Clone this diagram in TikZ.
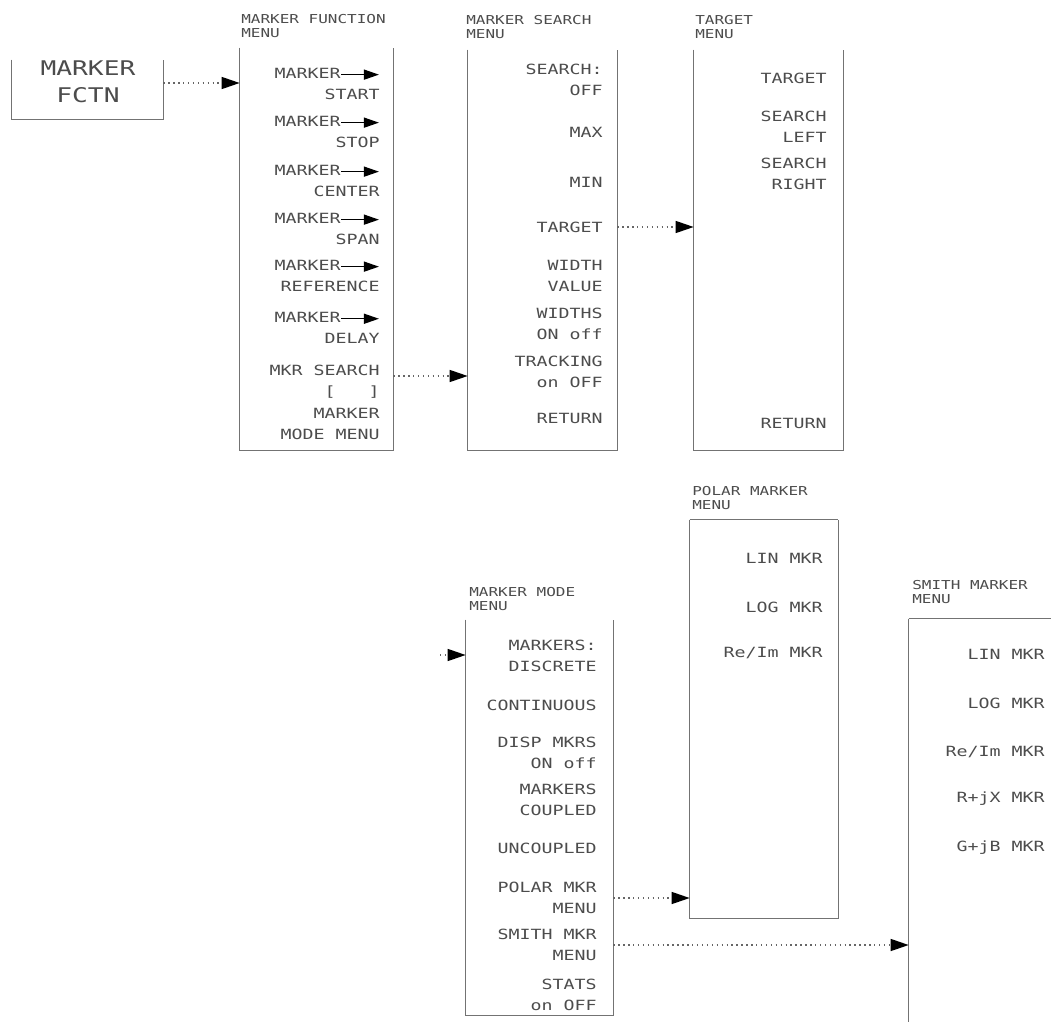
\documentclass[tikz,border=0pt]{standalone}
\usepackage{fontspec}
\newfontfamily\hpfont[FakeStretch=1.3]{DejaVu Sans Mono}
\usetikzlibrary{arrows.meta,fit,calc}
\tikzset{
	menu/.style   = {inner sep=0pt},
	mline/.style  = {draw=black!55,line width=0.7pt},
	item/.style   = {anchor=east,align=right,inner sep=0pt,text=black!70,
		font=\hpfont\fontsize{8}{12}\selectfont},
	mtitle/.style = {anchor=west,align=left,inner sep=0pt,text=black!70,
		font=\hpfont\fontsize{7}{7.5}\selectfont},
	keytxt/.style = {align=center,inner sep=0pt,text=black!70,
		font=\hpfont\fontsize{11.5}{15.5}\selectfont},
	arr/.style    = {-{Triangle[length=0.36cm,width=0.24cm,color=black]},
		dotted,line width=0.8pt,black!60},
}
\newcommand\mkrarrow{\tikz[baseline=-0.5ex]\draw[black,line width=0.8pt,
	-{Triangle[length=0.3cm,width=0.2cm]}](0,0)--(0.75cm,0);}

\begin{document}
\begin{tikzpicture}[x=0.02cm,y=-0.02cm]
	\useasboundingbox (0,0) rectangle (1051,1021);
	
	%% Cadres
	\node (fctnkey)[menu,fit={(12,60)(163,119)}]{};
	\node (fctn)   [menu,fit={(240,48)(393,450)}]{};
	\node (search) [menu,fit={(468,50)(617,450)}]{};
	\node (target) [menu,fit={(694,50)(843,450)}]{};
	\node (polar)  [menu,fit={(690,520)(838,918)}]{};
	\node (mode)   [menu,fit={(466,620)(613,1015)}]{};
	\node (smith)  [menu,fit={(909,619)(1062,1030)}]{};
	\foreach \m in {fctnkey,fctn,search,target,polar,mode,smith}
	\draw[mline](\m.north west)|-(\m.south east)--(\m.north east);
	\draw[mline](polar.north west)--(polar.north east);
	\draw[mline](smith.north west)--(smith.north east);
	
	%% Titres
	\node (keylabel)   [keytxt] at (88,82)  {MARKER\\FCTN};
	\node (fctntitle)  [mtitle] at (241,26) {MARKER FUNCTION\\MENU};
	\node (searchtitle)[mtitle] at (466,27) {MARKER SEARCH\\MENU};
	\node (targettitle)[mtitle] at (695,27) {TARGET\\MENU};
	\node (polartitle) [mtitle] at (692,498){POLAR MARKER\\MENU};
	\node (modetitle)  [mtitle] at (469,599){MARKER MODE\\MENU};
	\node (smithtitle) [mtitle] at (912,592){SMITH MARKER\\MENU};
	
	%% Touches
	\foreach \y/\t [count=\i] in {84/{MARKER\mkrarrow\\START},
		132/{MARKER\mkrarrow\\STOP},181/{MARKER\mkrarrow\\CENTER},
		229/{MARKER\mkrarrow\\SPAN},276/{MARKER\mkrarrow\\REFERENCE},
		328/{MARKER\mkrarrow\\DELAY},382/{MKR SEARCH\\{}[~~~]},
		424/{MARKER\\MODE MENU}}
	\node (f\i)[item] at (380,\y) {\t};
	\foreach \y/\t [count=\i] in {80/{SEARCH:\\OFF},132/MAX,182/MIN,
		227/TARGET,276/{WIDTH\\VALUE},324/{WIDTHS\\ON off},
		372/{TRACKING\\on OFF},418/RETURN}
	\node (s\i)[item] at (603,\y) {\t};
	\foreach \y/\t [count=\i] in {78/TARGET,127/{SEARCH\\LEFT},
		174/{SEARCH\\RIGHT},423/RETURN}
	\node (t\i)[item] at (827,\y) {\t};
	\foreach \y/\t [count=\i] in {656/{MARKERS:\\DISCRETE},705/CONTINUOUS,
		753/{DISP MKRS\\ON off},800/{MARKERS\\COUPLED},848/UNCOUPLED,
		898/{POLAR MKR\\MENU},945/{SMITH MKR\\MENU},995/{STATS\\on OFF}}
	\node (m\i)[item] at (597,\y) {\t};
	\foreach \y/\t [count=\i] in {558/{LIN MKR},607/{LOG MKR},653/{Re/Im MKR}}
	\node (p\i)[item] at (823,\y) {\t};
	\foreach \y/\t [count=\i] in {654/{LIN MKR},703/{LOG MKR},752/{Re/Im MKR},
		799/{R+jX MKR},848/{G+jB MKR}}
	\node (h\i)[item] at (1045,\y) {\t};
	
	%% Fleches
	\draw[arr]($(fctnkey.east)+(0,-6.5)$)--($(fctnkey.east -| fctn.west)+(0,-6.5)$);
	\draw[arr]($(f7.east -| fctn.east)+(0,-6)$)--($(f7.east -| search.west)+(0,-6)$);
	\draw[arr](s4.east -| search.east)--(s4.east -| target.west);
	\coordinate (modein) at (440,655);
	\draw[arr](modein)--(modein -| mode.west);
	\draw[arr](m6.east -| mode.east)--(m6.east -| polar.west);
	\draw[arr](m7.east -| mode.east)--(m7.east -| smith.west);
\end{tikzpicture}
\end{document}
